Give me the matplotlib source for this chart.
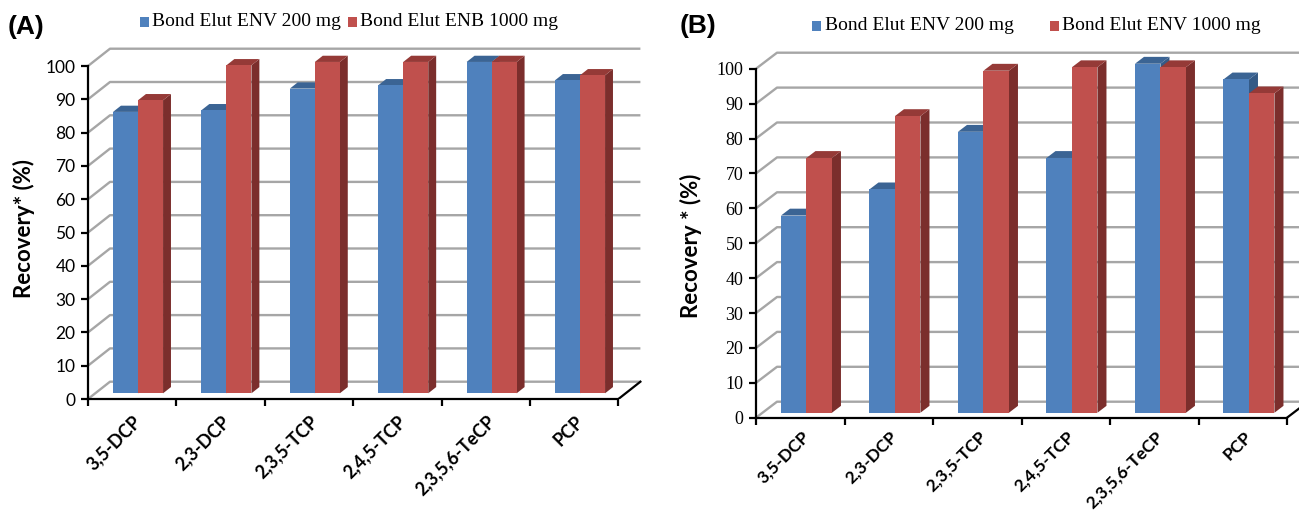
import matplotlib
matplotlib.use('Agg')
import matplotlib.pyplot as plt
from matplotlib.patches import Polygon, Rectangle
import numpy as np

categories = ['3,5-DCP', '2,3-DCP', '2,3,5-TCP', '2,4,5-TCP', '2,3,5,6-TeCP', 'PCP']
a_env200 = [84.5, 85, 91.5, 92.5, 99.5, 94]
a_enb1000 = [88, 98.5, 99.5, 99.5, 99.5, 95.5]
b_env200 = [56.5, 64, 80.5, 73, 100, 95.5]
b_env1000 = [73, 85, 98, 99, 99, 91.5]
y_ticks = list(range(0, 101, 10))
legend_a = ['Bond Elut ENV 200 mg', 'Bond Elut ENB 1000 mg']
legend_b = ['Bond Elut ENV 200 mg', 'Bond Elut ENV 1000 mg']
ylabel_a = 'Recovery* (%)'
ylabel_b = 'Recovery * (%)'

W, H = 1299, 515
fig = plt.figure(figsize=(W / 100, H / 100), dpi=100)

BLUE, BLUE_TOP, BLUE_SIDE = '#4F81BD', '#3B6494', '#345A86'
RED, RED_TOP, RED_SIDE = '#C0504D', '#953A37', '#7B2E2C'
GRID = '#A6A6A6'


def panel(rect, s1, s2, dx, dy, d0, bd, w, c, tickfam, ticksize, xsize, xpad):
    ax = fig.add_axes(rect)
    n = len(categories)
    ax.set_xlim(0, 6.3)
    ax.set_ylim(0, 106)
    # walls / gridlines
    for v in y_ticks:
        ax.plot([0, dx, n + dx], [v, v + dy, v + dy], color=GRID, lw=1.7,
                zorder=1, solid_capstyle='butt')
    ax.plot([n, n + dx], [0, dy], color='black', lw=1.6, zorder=1)
    base = d0 * dy
    bdx, bdy = bd * dx, bd * dy
    xs = np.arange(n) + c
    for vals, lefts, cf, ct, cs, z in [(s1, xs - w, BLUE, BLUE_TOP, BLUE_SIDE, 2),
                                      (s2, xs, RED, RED_TOP, RED_SIDE, 5)]:
        for xl, v in zip(lefts, vals):
            xr = xl + w
            t = base + v
            ax.add_patch(Polygon([(xr, base), (xr, t), (xr + bdx, t + bdy), (xr + bdx, base + bdy)],
                                 closed=True, facecolor=cs, edgecolor='none', zorder=z))
            ax.add_patch(Polygon([(xl, t), (xr, t), (xr + bdx, t + bdy), (xl + bdx, t + bdy)],
                                 closed=True, facecolor=ct, edgecolor='none', zorder=z))
        ax.bar(lefts, vals, width=w, bottom=base, align='edge', color=cf,
               edgecolor='none', zorder=z + 1)
    for s in ['top', 'right']:
        ax.spines[s].set_visible(False)
    for s in ['left', 'bottom']:
        ax.spines[s].set_linewidth(1.6)
        ax.spines[s].set_zorder(10)
    ax.spines['left'].set_bounds(0, 100)
    ax.spines['bottom'].set_bounds(0, n)
    ax.set_yticks(y_ticks)
    ax.set_yticklabels([str(v) for v in y_ticks], family=tickfam, fontsize=ticksize)
    ax.tick_params(axis='y', direction='out', length=5, width=1.6, pad=4)
    ax.set_xticks(np.arange(n + 1))
    ax.set_xticklabels([])
    ax.tick_params(axis='x', which='major', direction='out', length=5, width=1.6)
    ax.set_xticks(np.arange(n) + 0.57, minor=True)
    ax.set_xticklabels(categories, minor=True, rotation=45, ha='right', va='center',
                       rotation_mode='anchor', fontweight='bold', fontsize=xsize,
                       family='Lato')
    ax.tick_params(axis='x', which='minor', length=0, pad=xpad)
    ax.patch.set_visible(False)
    return ax


axA = panel([88 / W, (H - 399) / H, 6.3 * 88.4 / W, 106 * 3.33 / H],
            a_env200, a_enb1000, 22 / 88.4, 17.3 / 3.33, 0.33, 0.36, 0.283, 0.566,
            'Lato', 12.5, 13, 14)
axB = panel([756 / W, (H - 417.7) / H, 6.3 * 88.5 / W, 106 * 3.49 / H],
            b_env200, b_env1000, 21 / 88.5, 16 / 3.49, 0.31, 0.43, 0.288, 0.57,
            'Liberation Serif', 13, 12.5, 12)

# y labels
fig.text(24 / W, 1 - 228 / H, ylabel_a, rotation=90, ha='center', va='center',
         fontweight='bold', fontsize=16, family='Lato')
fig.text(691 / W, 1 - 246 / H, ylabel_b, rotation=90, ha='center', va='center',
         fontweight='bold', fontsize=16, family='Lato')

# panel letters
fig.text(8 / W, 1 - 27 / H, '(A)', ha='left', va='center', fontweight='bold',
         fontsize=19, family='Liberation Sans')
fig.text(680 / W, 1 - 26 / H, '(B)', ha='left', va='center', fontweight='bold',
         fontsize=19, family='Liberation Sans')


def legend(entries):
    for (label, color, sq_x, txt_x, yc) in entries:
        fig.add_artist(Rectangle((sq_x / W, 1 - (yc + 4.5) / H), 9 / W, 9 / H,
                                 transform=fig.transFigure, facecolor=color,
                                 edgecolor='none'))
        fig.text(txt_x / W, 1 - yc / H, label, ha='left', va='center',
                 fontsize=14, family='Liberation Serif')


legend([(legend_a[0], BLUE, 140, 152, 22), (legend_a[1], RED, 348, 360, 22)])
legend([(legend_b[0], BLUE, 812, 825, 26), (legend_b[1], RED, 1050, 1062, 26)])

fig.savefig('out.png', dpi=100)
